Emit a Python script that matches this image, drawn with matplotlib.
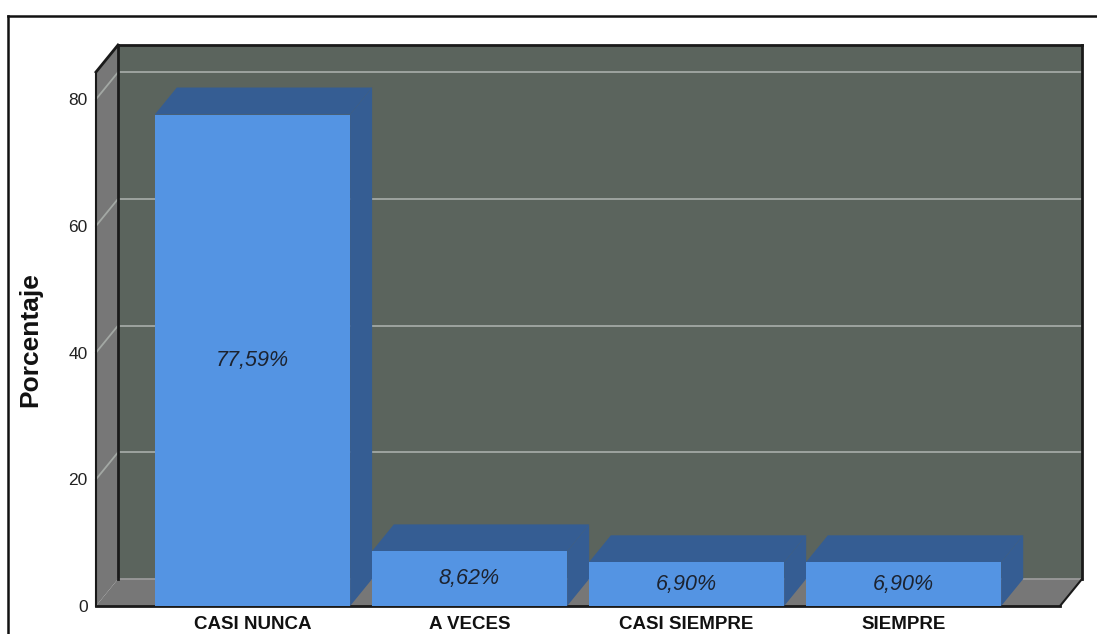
import matplotlib
matplotlib.use("Agg")
import matplotlib.pyplot as plt
from matplotlib import font_manager
from matplotlib.patches import Polygon
from matplotlib.lines import Line2D

# Data
categories = ["CASI NUNCA", "A VECES", "CASI SIEMPRE", "SIEMPRE"]
percentages = [77.59, 8.62, 6.90, 6.90]
y_ticks = [0, 20, 40, 60, 80]

# Fonts: a condensed face for the category labels when available
installed = {f.name for f in font_manager.fontManager.ttflist}
if "Liberation Sans Narrow" in installed:
    cat_family, cat_size = "Liberation Sans Narrow", 15
else:
    cat_family, cat_size = "Liberation Sans", 13.5
base_family = "Liberation Sans"

# Styling
W, H = 1097, 634
wall_color = "#5b645d"
side_gray = "#777777"
grid_color = "#a3a8a4"
bar_front = "#5494e3"
bar_dark = "#355d93"
edge_dark = "#1a1a1a"

fig = plt.figure(figsize=(W / 100, H / 100), dpi=100)
fig.patch.set_facecolor("white")

# front plane of the 3D box in figure pixels
left_px, right_px, base_px, top_px = 96, 1060, 606, 72
ax = fig.add_axes([left_px / W, 1 - base_px / H,
                   (right_px - left_px) / W, (base_px - top_px) / H])
xmin, xmax = -0.721, 3.721
ymin, ymax = 0, 84.3
ax.set_xlim(xmin, xmax)
ax.set_ylim(ymin, ymax)
ax.set_facecolor("none")
for s in ax.spines.values():
    s.set_visible(False)

# depth offset expressed in data units (22 px right, 27 px up)
px_per_x = (right_px - left_px) / (xmax - xmin)
px_per_y = (base_px - top_px) / (ymax - ymin)
ddx = 22 / px_per_x
ddy = 27 / px_per_y

def poly(pts, fc, z, ec="none", lw=0):
    p = Polygon(pts, closed=True, facecolor=fc, edgecolor=ec, lw=lw,
                zorder=z, clip_on=False)
    ax.add_patch(p)

# back wall
poly([(xmin + ddx, ddy), (xmax + ddx, ddy), (xmax + ddx, ymax + ddy),
      (xmin + ddx, ymax + ddy)], wall_color, 0)
# left wall
poly([(xmin, 0), (xmin + ddx, ddy), (xmin + ddx, ymax + ddy), (xmin, ymax)],
     side_gray, 0.5)
# floor
poly([(xmin, 0), (xmax, 0), (xmax + ddx, ddy), (xmin + ddx, ddy)],
     side_gray, 0.5)

# gridlines on back wall and left wall
for t in y_ticks[1:]:
    ax.add_line(Line2D([xmin + ddx, xmax + ddx], [t + ddy, t + ddy],
                       color=grid_color, lw=1.3, zorder=0.3, clip_on=False))
    ax.add_line(Line2D([xmin, xmin + ddx], [t, t + ddy],
                       color=grid_color, lw=1.3, zorder=0.6, clip_on=False))
ax.add_line(Line2D([xmin + ddx, xmax + ddx], [ddy, ddy],
                   color="#9a9a9a", lw=1.3, zorder=0.7, clip_on=False))

# box edges
edge_kw = dict(color=edge_dark, lw=2.0, zorder=0.8, clip_on=False,
               solid_capstyle="projecting")
ax.add_line(Line2D([xmin + ddx, xmax + ddx], [ymax + ddy, ymax + ddy], **edge_kw))
ax.add_line(Line2D([xmax + ddx, xmax + ddx], [ddy, ymax + ddy], **edge_kw))
ax.add_line(Line2D([xmin + ddx, xmin + ddx], [ddy, ymax + ddy], **edge_kw))
ax.add_line(Line2D([xmin, xmin + ddx], [ymax, ymax + ddy], **edge_kw))
ax.add_line(Line2D([xmin, xmin], [0, ymax], color=edge_dark, lw=1.5,
                   zorder=0.8, clip_on=False))
ax.add_line(Line2D([xmax, xmax + ddx], [0, ddy], color=edge_dark, lw=1.5,
                   zorder=0.8, clip_on=False))
ax.add_line(Line2D([xmin, xmax], [0, 0], color=edge_dark, lw=2.0,
                   zorder=0.8, clip_on=False))

# bars
width = 0.9
xs = list(range(len(categories)))
bars = ax.bar(xs, percentages, width=width, color=bar_front, zorder=3)
for b, v in zip(bars, percentages):
    x0 = b.get_x()
    x1 = x0 + b.get_width()
    # top face
    poly([(x0, v), (x1, v), (x1 + ddx, v + ddy), (x0 + ddx, v + ddy)],
         bar_dark, 2)
    # right side face
    poly([(x1, 0), (x1 + ddx, ddy), (x1 + ddx, v + ddy), (x1, v)],
         bar_dark, 2)
    label = f"{v:.2f}".replace(".", ",") + "%"
    ax.text(b.get_x() + b.get_width() / 2, v / 2, label, ha="center",
            va="center", fontsize=15.5, style="italic", color="#1c2330",
            family=base_family, zorder=4)

# axes ticks and labels
ax.set_yticks(y_ticks)
ax.set_yticklabels([str(t) for t in y_ticks], fontsize=12.5,
                   family=base_family, color="#222222")
ax.tick_params(axis="y", length=0, pad=6)
ax.set_xticks(xs)
ax.set_xticklabels(categories, fontsize=cat_size, fontweight="bold",
                   family=cat_family, color="#111111")
ax.tick_params(axis="x", length=0, pad=7.5)

fig.text(30 / W, 1 - 340 / H, "Porcentaje", rotation=90, ha="center",
         va="center", fontsize=19, fontweight="bold",
         family=base_family, color="#111111")

# outer frame
fig.add_artist(Line2D([8 / W, 1.0], [1 - 16 / H, 1 - 16 / H],
                      color="#111111", lw=1.8, transform=fig.transFigure))
fig.add_artist(Line2D([8 / W, 8 / W], [0, 1 - 16 / H],
                      color="#111111", lw=1.8, transform=fig.transFigure))

fig.savefig("out.png", dpi=100, facecolor="white")
